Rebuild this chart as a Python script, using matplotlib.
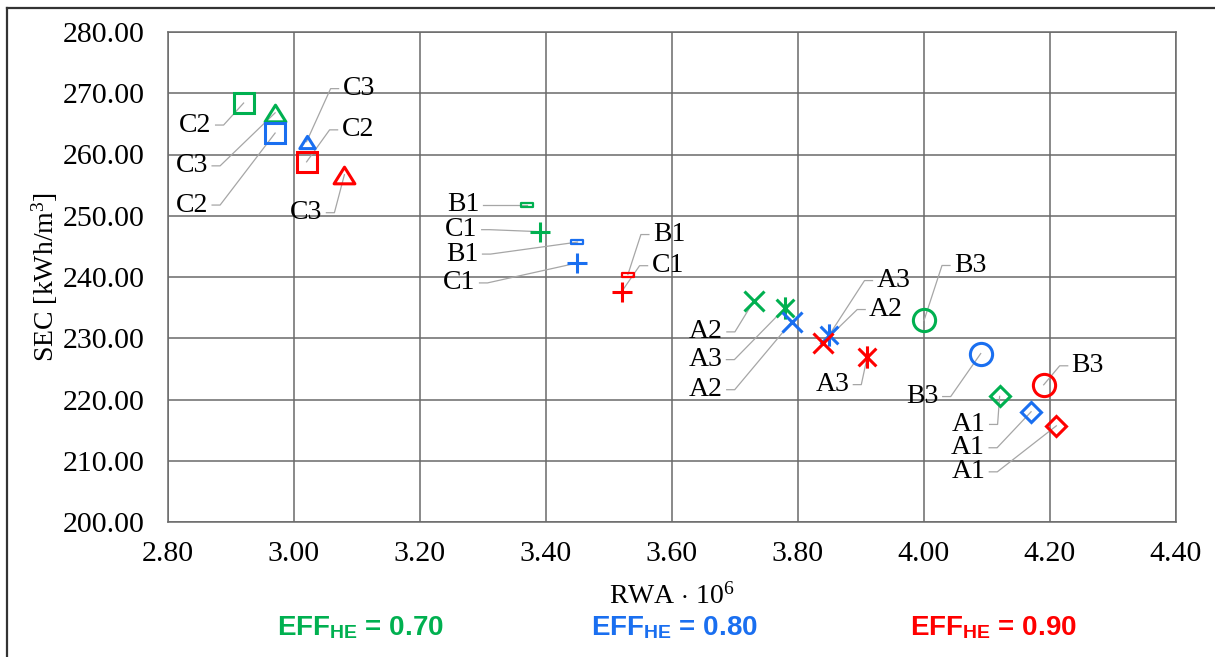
import numpy as np
import matplotlib
matplotlib.use("Agg")
import matplotlib.pyplot as plt
import matplotlib.transforms as mtransforms
from matplotlib.path import Path
from matplotlib.lines import Line2D

plt.rcParams['font.family'] = ['Liberation Serif', 'DejaVu Serif']
plt.rcParams['mathtext.fontset'] = 'custom'
plt.rcParams['mathtext.rm'] = 'Liberation Serif'
plt.rcParams['mathtext.it'] = 'Liberation Serif:italic'
plt.rcParams['mathtext.bf'] = 'Liberation Sans:bold'

# data (RWA * 1e6, SEC kWh/m3)
labels = ["C2", "C3", "B1", "C1", "A2", "A3", "B3", "A1"]
rwa_070 = [2.92, 2.97, 3.37, 3.39, 3.73, 3.78, 4.00, 4.12]
sec_070 = [268.4, 266.8, 251.8, 247.4, 236.1, 235.0, 232.9, 220.5]
rwa_080 = [2.97, 3.02, 3.45, 3.45, 3.79, 3.85, 4.09, 4.17]
sec_080 = [263.5, 262.1, 245.7, 242.3, 232.7, 230.6, 227.5, 218.0]
rwa_090 = [3.02, 3.08, 3.53, 3.52, 3.84, 3.91, 4.19, 4.21]
sec_090 = [258.8, 256.7, 240.4, 237.6, 229.3, 227.0, 222.4, 215.7]
eff_labels = ["0.70", "0.80", "0.90"]

colors = ['#00B050', '#1A6FF0', '#FF0000']

# marker shapes
rect = Path([(-1, -0.38), (1, -0.38), (1, 0.38), (-1, 0.38), (-1, -0.38)],
            [Path.MOVETO, Path.LINETO, Path.LINETO, Path.LINETO, Path.CLOSEPOLY])
aster = Path([(-1, -1), (1, 1), (-1, 1), (1, -1), (0, -1.25), (0, 1.25)],
             [Path.MOVETO, Path.LINETO, Path.MOVETO, Path.LINETO, Path.MOVETO, Path.LINETO])
tri = Path([(0, 0.8), (-1, -0.8), (1, -0.8), (0, 0.8)],
           [Path.MOVETO, Path.LINETO, Path.LINETO, Path.CLOSEPOLY])
mk = {"C2": ('s', 14.5), "C3": (tri, 15), "B1": (rect, 8.5), "C1": ('+', 15),
      "A2": ('x', 15), "A3": (aster, 16), "B3": ('o', 16), "A1": ('D', 10)}

# leader line start (pixels from marker, screen y down) and label side
lead_070 = [(-28, 22, 'L'), (-63, 53, 'L'), (-44, 0, 'L'), (-58, -2, 'L'),
            (-27, 31, 'L'), (-59, 52, 'L'), (26, -55, 'R'), (-10, 28, 'L')]
lead_080 = [(-63, 72, 'L'), (32, -53, 'R'), (-95, 12, 'L'), (-98, 20, 'L'),
            (-65, 68, 'L'), (43, -54, 'R'), (-38, 43, 'L'), (-42, 36, 'L')]
lead_090 = [(31, -32, 'R'), (-18, 38, 'L'), (21, -40, 'R'), (26, -26, 'R'),
            (42, -33, 'R'), (-14, 28, 'L'), (24, -19, 'R'), (-67, 46, 'L')]

W, H = 1215, 657
fig = plt.figure(figsize=(W / 100, H / 100), dpi=100)
ax = fig.add_axes([168 / W, 1 - 522 / H, 1008 / W, 490 / H])

ax.set_xlim(2.8, 4.4)
ax.set_ylim(200, 280)
ax.set_xticks(np.arange(2.8, 4.41, 0.2))
ax.set_yticks(np.arange(200, 281, 10))
ax.xaxis.set_major_formatter(matplotlib.ticker.FormatStrFormatter('%.2f'))
ax.yaxis.set_major_formatter(matplotlib.ticker.FormatStrFormatter('%.2f'))
ax.tick_params(length=0, labelsize=21.5, colors='black')
ax.tick_params(axis='x', pad=14)
ax.tick_params(axis='y', pad=17)
ax.grid(True, color='#6A6A6A', lw=1.1)
ax.set_axisbelow(True)
for s in ax.spines.values():
    s.set_color('#6A6A6A')
    s.set_linewidth(1.1)

ax.set_xlabel(r"RWA $\cdot$ 10$^{6}$", fontsize=20, va='center')
ax.xaxis.set_label_coords(0.5, -0.151)
ax.set_ylabel(r"SEC [kWh/m$^{3}$]", fontsize=20, va='center')
ax.yaxis.set_label_coords(-0.122, 0.5)

series = [(rwa_070, sec_070, lead_070), (rwa_080, sec_080, lead_080), (rwa_090, sec_090, lead_090)]
for (xs, ys, leads), c in zip(series, colors):
    for lab, x, y, (dx, dy, side) in zip(labels, xs, ys, leads):
        m, ms = mk[lab]
        if c == colors[1] and lab == "C3":
            ms = 11
        mew = 1.6 if lab == "B1" else 2.2
        ax.plot([x], [y], linestyle='none', marker=m, ms=ms, mfc='none', mec=c, mew=mew,
                zorder=4, clip_on=False)
        tr = fig.dpi_scale_trans + mtransforms.ScaledTranslation(x, y, ax.transData)
        stub = 8 if side == 'L' else -8
        px = [dx / 100, (dx + stub) / 100, 0]
        py = [-dy / 100, -dy / 100, 0]
        ax.add_line(Line2D(px, py, transform=tr, color='#A6A6A6', lw=0.9, zorder=3, clip_on=False))
        tx = (dx - 4) / 100 if side == 'L' else (dx + 4) / 100
        ax.text(tx, -dy / 100, lab, transform=tr, fontsize=20,
                ha='right' if side == 'L' else 'left', va='center', zorder=5)

# legend-like labels under the axis
for xc, c, e in zip([360, 674, 993], colors, eff_labels):
    fig.text(xc / W, 1 - 628 / H, r"EFF$_{\mathbf{HE}}$ = " + e, color=c, fontsize=20,
             family=['Liberation Sans', 'DejaVu Sans'], weight='bold',
             ha='center', va='center')

# frame around the figure
fig.add_artist(Line2D([7 / W, 7 / W], [0, 1 - 8 / H], transform=fig.transFigure, color='#333333', lw=1.6))
fig.add_artist(Line2D([7 / W, 1], [1 - 8 / H, 1 - 8 / H], transform=fig.transFigure, color='#333333', lw=1.6))

fig.savefig("out.png", dpi=100)
